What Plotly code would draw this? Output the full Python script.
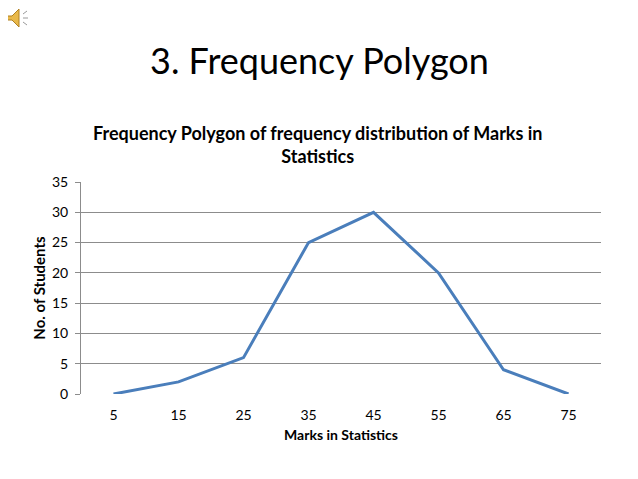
import plotly.graph_objects as go

marks = [5, 15, 25, 35, 45, 55, 65, 75]
students = [0, 2, 6, 25, 30, 20, 4, 0]
y_ticks = [0, 5, 10, 15, 20, 25, 30, 35]

font_name = "Lato, Open Sans, sans-serif"

fig = go.Figure()
fig.add_trace(go.Scatter(x=marks, y=students, mode="lines",
                         line=dict(color="#4a7ebb", width=3)))

# page body has an 8px margin, so offsets are shifted by 8
fig.update_layout(
    width=638, height=479,
    margin=dict(l=73, r=45, t=174, b=93),
    paper_bgcolor="white", plot_bgcolor="white",
    showlegend=False,
    font=dict(family=font_name, color="black", size=14),
)

fig.update_xaxes(range=[0, 80], tickvals=marks, ticktext=[str(m) for m in marks],
                 showgrid=False, zeroline=False, showline=False, ticks="",
                 tickfont=dict(size=14), ticklabelstandoff=11,
                 title=dict(text="<b>Marks in Statistics</b>", font=dict(size=14), standoff=8))
fig.update_yaxes(range=[0, 35], tickvals=y_ticks, showgrid=True, gridcolor="#8c8c8c",
                 gridwidth=1, zeroline=False, showline=True, linecolor="#8c8c8c",
                 ticks="outside", ticklen=5, tickcolor="#8c8c8c",
                 tickfont=dict(size=14), ticklabelstandoff=4,
                 title=dict(text="<b>No. of Students</b>", font=dict(size=15), standoff=2))

# page title and chart title
fig.add_annotation(text="3. Frequency Polygon", x=0.5, y=1, xref="paper", yref="paper",
                   yanchor="middle", yshift=122, xshift=-22, showarrow=False,
                   font=dict(size=36, family=font_name))
fig.add_annotation(text="<b>Frequency Polygon of frequency distribution of Marks in<br>Statistics</b>",
                   x=0.5, y=1.0, xref="paper", yref="paper", yanchor="bottom", yshift=13,
                   xshift=-24, showarrow=False, font=dict(size=18, family=font_name))

# speaker icon
fig.add_shape(type="path", xref="paper", yref="paper", xsizemode="pixel", ysizemode="pixel",
              xanchor=0, yanchor=1,
              path="M -74 166 L -69 166 L -62 173 L -62 155 L -69 162 L -74 162 Z",
              fillcolor="#e8b84a", line=dict(color="#b08020", width=1))
for p in ["M -58 168 L -54 171", "M -58 164 L -53 164", "M -58 160 L -54 157"]:
    fig.add_shape(type="path", xref="paper", yref="paper", xsizemode="pixel", ysizemode="pixel",
                  xanchor=0, yanchor=1, path=p, line=dict(color="#9a9a9a", width=1))

fig.write_html("out.html")
